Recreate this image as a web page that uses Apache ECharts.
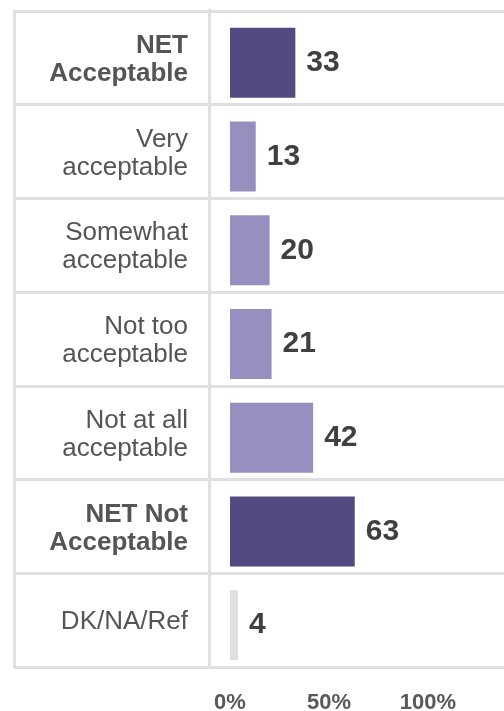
<!DOCTYPE html>
<html>
<head>
<meta charset="utf-8">
<script src="https://cdn.jsdelivr.net/npm/echarts@6/dist/echarts.min.js"></script>
<style>
  html, body { margin: 0; padding: 0; background: #ffffff; }
  #chart { width: 504px; height: 711px; }
</style>
</head>
<body>
<div id="chart"></div>
<script>
// Survey responses: share of respondents (%) per answer
const categories = [
  'NET\nAcceptable',
  'Very\nacceptable',
  'Somewhat\nacceptable',
  'Not too\nacceptable',
  'Not at all\nacceptable',
  'NET Not\nAcceptable',
  'DK/NA/Ref'
];
const values = [33, 13, 20, 21, 42, 63, 4];
const axisTicks = [0, 50, 100];

const FONT = "'Liberation Sans', Arial, Helvetica, sans-serif";
const LINE = '#e0e0e0';
const DARK = '#524a80';
const LIGHT = '#968fbf';
const GREY = '#e0e0e0';

function isNet(name) { return name.indexOf('NET') === 0; }
function barColor(name) {
  if (isNet(name)) return DARK;
  if (name === 'DK/NA/Ref') return GREY;
  return LIGHT;
}

const chart = echarts.init(document.getElementById('chart'), null, { renderer: 'canvas' });

chart.setOption({
  animation: false,
  backgroundColor: '#ffffff',
  grid: [
    // table frame spanning full width (row rules + left border)
    { left: 14, right: 0, top: 11, bottom: 44, outerBoundsMode: 'none' },
    // category labels column
    { left: 209, right: 0, top: 13, bottom: 42, outerBoundsMode: 'none' },
    // plotting area for the bars
    { left: 230, right: 76, top: 16, bottom: 39, outerBoundsMode: 'none' },
    // divider between label column and bars
    { left: 209, right: 0, top: 10, bottom: 44, outerBoundsMode: 'none' }
  ],
  xAxis: [
    { gridIndex: 0, type: 'value', show: false, min: 0, max: 1 },
    { gridIndex: 1, type: 'value', show: false, min: 0, max: 1 },
    {
      gridIndex: 2, type: 'value', min: axisTicks[0], max: axisTicks[axisTicks.length - 1],
      interval: axisTicks[1] - axisTicks[0],
      axisLine: { show: false }, axisTick: { show: false }, splitLine: { show: false },
      axisLabel: {
        formatter: '{value}%', margin: 20,
        fontFamily: FONT, fontSize: 22, fontWeight: 'bold', color: '#595959'
      }
    },
    { gridIndex: 3, type: 'value', show: false, min: 0, max: 1 }
  ],
  yAxis: [
    {
      gridIndex: 0, type: 'category', inverse: true, data: categories,
      axisLine: { show: true, lineStyle: { color: LINE, width: 3 } },
      axisTick: { show: false }, axisLabel: { show: false },
      splitLine: { show: true, lineStyle: { color: LINE, width: 3 } }
    },
    {
      gridIndex: 1, type: 'category', inverse: true, data: categories,
      axisLine: { show: false },
      axisTick: { show: false }, splitLine: { show: false },
      axisLabel: {
        margin: 21,
        align: 'right',
        formatter: function (v) {
          const tag = isNet(v) ? 'b' : 'n';
          return v.split('\n').map(function (s) { return '{' + tag + '|' + s + '}'; }).join('\n');
        },
        rich: {
          n: { fontFamily: FONT, fontSize: 26, lineHeight: 28, color: '#555555', align: 'right' },
          b: { fontFamily: FONT, fontSize: 26, lineHeight: 28, fontWeight: 'bold', color: '#555555', align: 'right' }
        }
      }
    },
    {
      gridIndex: 2, type: 'category', inverse: true, data: categories,
      axisLine: { show: false }, axisTick: { show: false },
      axisLabel: { show: false }, splitLine: { show: false }
    },
    {
      gridIndex: 3, type: 'category', inverse: true, data: categories,
      axisLine: { show: true, lineStyle: { color: LINE, width: 3 } },
      axisTick: { show: false }, axisLabel: { show: false }, splitLine: { show: false }
    }
  ],
  series: [
    {
      type: 'bar',
      xAxisIndex: 2, yAxisIndex: 2,
      barWidth: 70,
      data: values.map(function (v, i) {
        return { value: v, itemStyle: { color: barColor(categories[i]) } };
      }),
      label: {
        show: true, position: 'right', distance: 11,
        fontFamily: FONT, fontSize: 30, fontWeight: 'bold', color: '#404040'
      }
    }
  ]
});
</script>
</body>
</html>
